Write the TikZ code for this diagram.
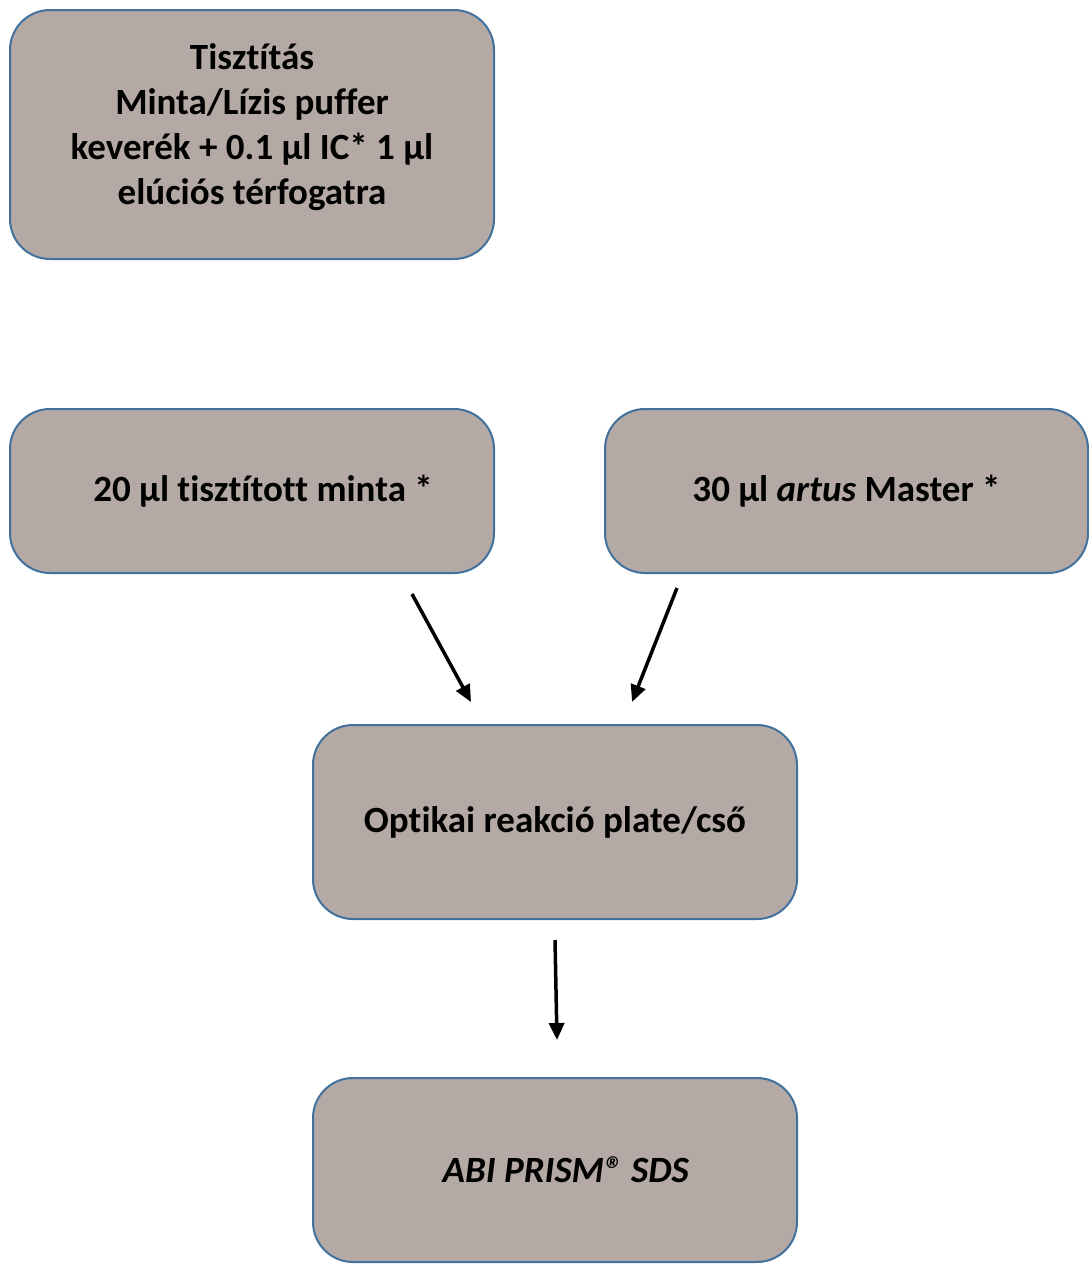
\documentclass[tikz,border=0pt]{standalone}
\usepackage{fontspec}
\setmainfont{Carlito}[Ligatures=NoCommon]
\usetikzlibrary{arrows.meta}
\definecolor{boxfill}{HTML}{B4A9A5}
\definecolor{boxline}{HTML}{41719C}
\tikzset{
  stepbox/.style={draw=boxline,fill=boxfill,line width=2pt,rounded corners=40pt,
    minimum width=484pt,align=center,font=\fontsize{37}{45}\selectfont\bfseries},
  flow/.style={line width=3.5pt,-{Triangle[length=17pt,width=15pt]}}
}
\begin{document}
\begin{tikzpicture}[x=1pt,y=-1pt]
\useasboundingbox (0,0) rectangle (1088,1264);
\node[stepbox,minimum height=249pt] (tisztitas) at (252,134.5) {Tisztítás\\Minta/Lízis puffer\\keverék + 0.1 µl IC* 1 µl\\elúciós térfogatra\\[-24pt]\mbox{}};
\node[stepbox,minimum height=164pt] (minta) at (252,491) {\hspace*{22pt}20 µl tisztított minta *};
\node[stepbox,minimum width=483pt,minimum height=164pt] (master) at (846.5,491) {30 µl \textit{artus} Master *};
\node[stepbox,minimum height=194pt] (plate) at (555,822) {Optikai reakció plate/cső};
\node[stepbox,minimum height=184pt] (sds) at (555,1170) {\hspace*{22pt}\textit{ABI PRISM® SDS}};
\coordinate (a1) at (412,594);
\coordinate (a2) at (471,702);
\coordinate (b1) at (677,588);
\coordinate (b2) at (632,702);
\coordinate (c1) at (555,940);
\coordinate (c2) at (557,1040);
\draw[flow] (a1)--(a2);
\draw[flow] (b1)--(b2);
\draw[flow] (c1)--(c2);
\end{tikzpicture}
\end{document}
